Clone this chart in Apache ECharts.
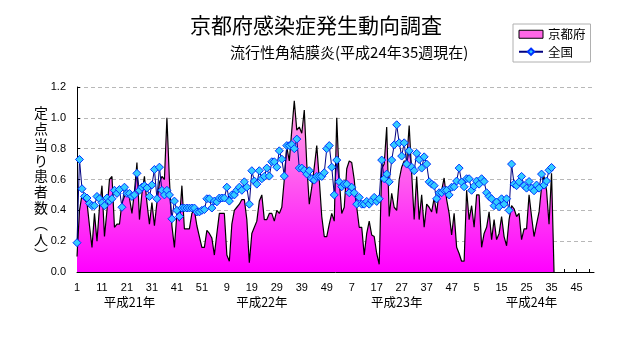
<!DOCTYPE html>
<html><head><meta charset="utf-8">
<script src="https://cdn.jsdelivr.net/npm/echarts@6/dist/echarts.min.js"></script>
<style>html,body{margin:0;padding:0;background:#fff}#c{width:632px;height:348px}</style>
</head><body><div id="c"></div>
<script>
// ---- data ----
const yearNames = ['平成21年', '平成22年', '平成23年', '平成24年'];
const weeksPerYear = 52;
const yTickValues = [0, 0.2, 0.4, 0.6, 0.8, 1.0, 1.2];
// 京都府 (per-sentinel count), week 1 of H21 onward; final 0 = week after last report
const kyoto = [
 0.10,0.40,0.50,0.47,0.45,0.30,0.16,0.38,0.20,0.42,
 0.56,0.23,0.40,0.60,0.62,0.29,0.31,0.31,0.45,0.49,
 0.51,0.48,0.38,0.52,0.71,0.34,0.51,0.62,0.45,0.31,
 0.45,0.30,0.45,0.58,0.62,0.60,1.00,0.60,0.30,0.16,
 0.38,0.33,0.56,0.28,0.28,0.28,0.38,0.40,0.30,0.23,
 0.16,0.16,0.27,0.25,0.22,0.11,0.25,0.38,0.38,0.38,
 0.11,0.07,0.31,0.40,0.42,0.44,0.47,0.47,0.34,0.06,
 0.25,0.29,0.33,0.46,0.50,0.34,0.34,0.38,0.38,0.33,
 0.40,0.38,0.42,0.60,0.81,0.72,0.92,1.11,0.92,0.94,
 0.90,1.05,0.70,0.44,0.55,0.68,0.82,0.60,0.36,0.23,
 0.23,0.31,0.38,0.33,1.00,0.60,0.38,0.42,0.67,0.72,
 0.71,0.60,0.42,0.29,0.29,0.11,0.25,0.33,0.24,0.23,
 0.12,0.05,0.67,0.70,0.94,0.36,0.51,0.42,0.40,0.60,
 0.68,0.72,0.72,0.95,0.64,0.34,0.62,0.34,0.50,0.29,
 0.44,0.42,0.39,0.48,0.38,0.53,0.53,0.61,0.47,0.38,
 0.24,0.38,0.16,0.12,0.07,0.07,0.53,0.34,0.43,0.29,
 0.50,0.50,0.16,0.25,0.29,0.39,0.21,0.34,0.21,0.25,
 0.36,0.23,0.17,0.34,0.43,0.41,0.36,0.38,0.21,0.28,
 0.28,0.50,0.36,0.23,0.31,0.39,0.55,0.62,0.53,0.31,
 0.64,0
];
// 全国
const national = [
 0.19,0.73,0.54,0.49,0.48,0.445,0.43,0.43,0.49,0.475,
 0.45,0.43,0.48,0.46,0.475,0.53,0.51,0.535,0.42,0.55,
 0.51,0.51,0.49,0.50,0.64,0.53,0.55,0.56,0.545,0.49,
 0.565,0.665,0.475,0.68,0.53,0.50,0.53,0.50,0.345,0.46,
 0.40,0.36,0.415,0.415,0.415,0.415,0.415,0.415,0.39,0.39,
 0.40,0.405,0.475,0.475,0.415,0.46,0.455,0.48,0.48,0.48,
 0.55,0.46,0.50,0.50,0.53,0.55,0.53,0.585,0.55,0.44,
 0.657,0.59,0.57,0.657,0.605,0.62,0.674,0.622,0.715,0.715,
 0.68,0.786,0.732,0.622,0.82,0.82,0.827,0.80,0.862,0.674,
 0.674,0.66,0.635,0.657,0.605,0.596,0.62,0.62,0.62,0.644,
 0.80,0.82,0.68,0.50,0.726,0.585,0.553,0.57,0.57,0.514,
 0.55,0.514,0.44,0.484,0.44,0.44,0.458,0.44,0.462,0.484,
 0.458,0.475,0.726,0.605,0.635,0.585,0.726,0.825,0.955,0.838,
 0.752,0.838,0.70,0.786,0.68,0.657,0.77,0.73,0.674,0.747,
 0.70,0.585,0.57,0.56,0.475,0.514,0.514,0.53,0.53,0.50,
 0.55,0.553,0.59,0.674,0.583,0.553,0.605,0.605,0.53,0.557,
 0.59,0.57,0.605,0.587,0.514,0.49,0.475,0.43,0.454,0.423,
 0.475,0.44,0.475,0.40,0.70,0.57,0.56,0.585,0.62,0.56,
 0.544,0.587,0.544,0.527,0.564,0.544,0.635,0.564,0.59,0.66,
 0.678
];

// ---- categories: week numbers for each year ----
const categories = [];
yearNames.forEach(() => { for (let w = 1; w <= weeksPerYear; w++) categories.push(String(w)); });
const yearLabelIdx = [21, 74, 128, 182];

const JP = '"Noto Sans CJK JP", sans-serif';
const NUM = '"Liberation Sans", Arial, sans-serif';

const chart = echarts.init(document.getElementById('c'), null, {renderer: 'canvas'});
chart.setOption({
  animation: false,
  backgroundColor: '#fff',
  title: [
    {text: '京都府感染症発生動向調査', left: 185, top: 10,
     textStyle: {fontFamily: JP, fontSize: 21, fontWeight: 'normal', color: '#000'}},
    {text: '流行性角結膜炎(平成24年35週現在)', left: 225, top: 40,
     textStyle: {fontFamily: JP, fontSize: 15, fontWeight: 'normal', color: '#000'}}
  ],
  legend: {
    orient: 'vertical', left: 513, top: 24,
    borderColor: '#b0b0b0', borderWidth: 1, padding: [4, 5, 4, 5],
    itemGap: 5, itemWidth: 24, itemHeight: 8,
    textStyle: {fontFamily: JP, fontSize: 12.5, color: '#000'},
    data: [
      {name: '京都府', icon: 'rect', itemStyle: {color: '#ff66e6', borderColor: '#000', borderWidth: 1}},
      {name: '全国'}
    ]
  },
  grid: {left: 77, right: 38, top: 87, bottom: 76, containLabel: false},
  xAxis: [
    {
      type: 'category', data: categories, boundaryGap: false,
      axisLine: {lineStyle: {color: '#000', width: 1}},
      axisTick: {inside: true, length: 3, interval: 4, lineStyle: {color: '#000'}},
      axisLabel: {interval: 9, margin: 10, fontFamily: NUM, fontSize: 11, color: '#000'},
      splitLine: {show: false}
    },
    {
      type: 'category', data: categories, boundaryGap: false, position: 'bottom',
      axisLine: {show: false}, axisTick: {show: false},
      axisLabel: {
        interval: (idx) => yearLabelIdx.indexOf(idx) >= 0,
        formatter: (v, idx) => yearNames[Math.floor(idx / weeksPerYear)],
        margin: 24, fontFamily: JP, fontSize: 12.5, color: '#000'
      },
      splitLine: {show: false}
    }
  ],
  yAxis: {
    type: 'value', min: 0, max: 1.2, interval: 0.2,
    axisLine: {show: true, lineStyle: {color: '#000', width: 1}},
    axisTick: {show: true, inside: true, length: 3, lineStyle: {color: '#000'}},
    axisLabel: {margin: 11, fontFamily: NUM, fontSize: 11, color: '#000',
      formatter: (v) => v.toFixed(1)},
    splitLine: {show: true, lineStyle: {color: '#b8b8b8', type: [4, 3], width: 1}}
  },
  graphic: [
    {type: 'text', left: 34, top: 105,
     style: {text: '定\n点\n当\nり\n患\n者\n数\n︵\n人\n︶', font: '14px "Noto Sans CJK JP"', lineHeight: 15.8, fill: '#000', align: 'center'}}
  ],
  series: [
    {
      name: '京都府', type: 'line', data: kyoto, showSymbol: false, symbol: 'none',
      lineStyle: {color: '#000', width: 1.2},
      itemStyle: {color: '#ff66e6'},
      areaStyle: {opacity: 1, color: new echarts.graphic.LinearGradient(0, 0, 0, 1, [
        {offset: 0, color: '#ffa8e2'}, {offset: 1, color: '#ff00ff'}])},
      z: 2
    },
    {
      name: '全国', type: 'line', data: national, showSymbol: true, showAllSymbol: true,
      symbol: 'diamond', symbolSize: 8,
      lineStyle: {color: '#000080', width: 1},
      itemStyle: {color: '#33ccff', borderColor: '#0033ff', borderWidth: 1},
      z: 3
    }
  ]
});
</script>
</body></html>
